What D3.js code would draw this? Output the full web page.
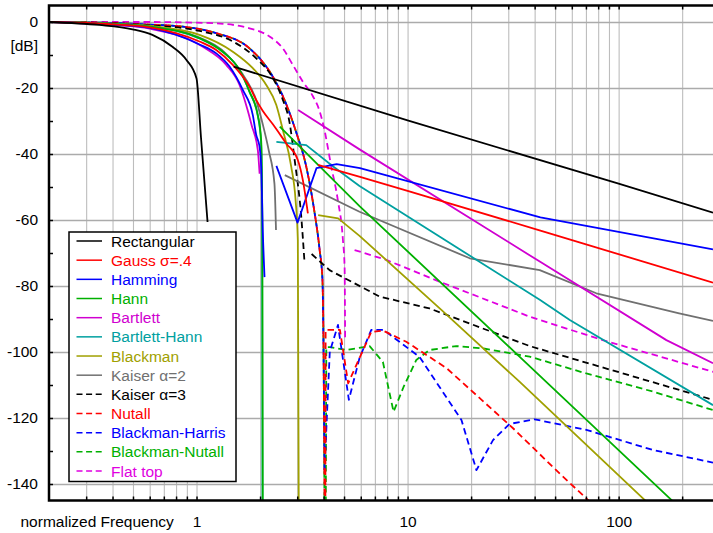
<!DOCTYPE html>
<html>
<head>
<meta charset="utf-8">
<script src="https://cdn.jsdelivr.net/npm/d3@7"></script>
<style>
  body { margin: 0; background: #fff; }
  text { font-family: "Liberation Sans", Arial, sans-serif; }
</style>
</head>
<body>
<svg id="chart" width="713" height="533"></svg>
<script>
// [normalized frequency, dB]
const rectMain = [[0.2,0],[0.346,-0.9],[0.497,-2.2],[0.618,-3.9],[0.769,-7.5],[0.896,-11.5],[1.0,-17.1],[1.05,-35],[1.128,-60.6]];
const rectSide = [[1.5,-13.5],[10,-29.8],[100,-49],[280,-57.8]];

const gaussMain = [[0.2,0],[0.4,-0.7],[0.6,-1.6],[1.033,-5.9],[1.24,-8.5],[1.486,-13],[1.783,-19.6],[1.918,-23.6],[2.062,-27],[2.3,-31],[2.662,-36.8],[3.02,-41.8],[3.19,-47.9],[3.37,-58]];
const gaussSide = [[3.76,-43.3],[5.95,-46.9],[10,-51.2],[42.6,-63.2],[280,-79]];

const hammingMain = [[0.2,0],[0.4,-0.8],[0.6,-1.8],[1.033,-6.8],[1.24,-9.5],[1.434,-13.5],[1.657,-20.6],[1.848,-28.2],[1.918,-34.2],[1.989,-37.8],[2.025,-43.8],[2.062,-63.9],[2.10,-77.3]];
const hammingSide = [[2.39,-43.6],[3.01,-60.8],[3.70,-44.3],[4.61,-43.1],[5.95,-44.3],[42.6,-59.2],[280,-68.9]];

const hannMain = [[0.2,0],[0.4,-0.6],[0.6,-1.4],[1.033,-4.9],[1.332,-9],[1.599,-14.5],[1.783,-21.1],[1.952,-28.2],[2.025,-36],[2.05,-60],[2.065,-200]];
const hannSide = [[2.48,-31.7],[5.92,-55.8],[33.9,-101.4],[177.7,-144.8],[280,-157]];

const bartlettMain = [[0.2,0],[0.4,-0.9],[0.6,-2],[1.071,-7.5],[1.383,-13],[1.599,-19.1],[1.746,-26.7],[1.823,-31.2],[1.952,-38.8],[1.99,-46]];
const bartlettSide = [[3.03,-26.7],[5.92,-38.6],[42.3,-72.6],[168.4,-96.4],[280,-103.4]];

const bartlettHannMain = [[0.2,0],[0.4,-0.6],[0.6,-1.4],[1.033,-5],[1.332,-9.1],[1.599,-14.6],[1.783,-21.2],[1.95,-28.4],[2.02,-36],[2.045,-60],[2.06,-200]];
const bartlettHannSide = [[2.39,-36.3],[3.31,-37.3],[4.44,-43.8],[5.92,-49.7],[42.3,-84.2],[58.7,-90.3],[280,-116.1]];

const blackmanMain = [[0.2,0],[0.4,-0.5],[0.6,-1.2],[1.033,-3.9],[1.486,-9],[1.848,-14],[2.14,-19.1],[2.386,-25.1],[2.564,-32.7],[2.81,-43.8],[2.946,-53.9],[3.02,-66.1],[3.05,-145],[3.06,-200]];
const blackmanSide = [[3.77,-58.5],[4.69,-59.5],[5.92,-64.8],[14.5,-87.3],[33.9,-109],[132.7,-144.8],[280,-164]];

const kaiser2Main = [[0.2,0],[0.4,-0.6],[0.6,-1.3],[1.033,-4.7],[1.4,-10],[1.7,-17],[1.9,-23],[2.06,-31],[2.2,-39],[2.34,-49],[2.38,-63]];
const kaiser2Side = [[2.62,-46.4],[5.92,-57.5],[19.7,-71.6],[42.3,-75.2],[78.4,-82.2],[193.6,-88.3],[280,-90.6]];

const kaiser3Main = [[0.2,0],[0.4,-0.4],[0.6,-1],[1.033,-2.7],[1.486,-5.9],[1.918,-11],[2.3,-17],[2.56,-23.5],[2.76,-30.5],[2.92,-42],[3.135,-59],[3.25,-73]];
const kaiser3Side = [[3.51,-70.3],[4.27,-75.2],[7.37,-83.2],[12.7,-86.8],[37.9,-98.2],[280,-114.5]];

const nutallMain = [[0.2,0],[0.4,-0.3],[0.6,-0.8],[0.861,-1.4],[1.24,-3.4],[1.783,-8],[2.3,-16.6],[2.61,-23.6],[2.97,-33.5],[3.31,-43.8],[3.61,-57],[3.83,-69],[3.95,-78],[4.04,-145],[4.06,-220]];
const nutallSide = [[4.065,-220],[4.09,-93.3],[4.78,-93.3],[5.23,-109.5],[5.92,-101.8],[6.73,-93.9],[7.64,-93.5],[9.86,-96.9],[15.3,-104.9],[31.6,-123.1],[52.5,-136.8],[71.5,-144.8],[100,-155]];

const blackmanHarrisMain = [[0.2,0],[0.4,-0.3],[0.6,-0.8],[0.861,-1.4],[1.24,-3.4],[1.783,-8],[2.3,-16.6],[2.61,-23.6],[2.97,-33.5],[3.31,-43.8],[3.61,-57],[3.83,-69],[3.95,-78],[4.04,-135.8]];
const blackmanHarrisSide = [[4.04,-135.8],[4.28,-99.9],[4.68,-91.8],[5.27,-114.5],[5.92,-101.8],[6.73,-93.3],[7.7,-93.3],[11.4,-101.5],[18,-120.6],[21.2,-135.8],[25.4,-126.7],[30.4,-121.8],[40,-120.4],[70.3,-123.6],[145.4,-129.7],[280,-133.5]];

const blackmanNutallMain = [[0.2,0],[0.4,-0.3],[0.6,-0.8],[0.861,-1.4],[1.24,-3.4],[1.783,-8],[2.3,-16.6],[2.61,-23.6],[2.97,-33.5],[3.31,-43.8],[3.61,-57],[3.83,-69],[3.95,-78],[4.04,-145],[4.06,-220]];
const blackmanNutallSide = [[4.065,-220],[4.12,-98.5],[4.28,-98.5],[5.14,-99.4],[6.61,-98.2],[7.64,-103],[8.58,-118.1],[9.57,-110.6],[11,-102.4],[12.7,-99.4],[17,-98.2],[22.7,-98.9],[37.9,-101.4],[70.3,-106.5],[145.4,-112],[280,-117.6]];

const flatTopMain = [[0.2,0],[0.6,0],[1.0,-0.2],[1.24,-0.4],[1.6,-1.2],[1.783,-1.9],[2.218,-4.4],[2.564,-8],[2.861,-13],[3.19,-18.1],[3.56,-22.5],[3.83,-27],[4.0,-31.5],[4.35,-43.8],[4.67,-53.9],[4.94,-66.1],[5.03,-74.2],[5.06,-95.5]];
const flatTopSide = [[5.61,-69.1],[7.93,-72.1],[14.2,-78.7],[37.9,-89.3],[84,-96.4],[280,-106]];

const windowNames = ["Rectangular", "Gauss σ=.4", "Hamming", "Hann", "Bartlett", "Bartlett-Hann", "Blackman",
  "Kaiser α=2", "Kaiser α=3", "Nutall", "Blackman-Harris", "Blackman-Nutall", "Flat top"];
// first array of each entry is the main lobe, second the side lobes
const windowData = [
  [rectMain, rectSide], [gaussMain, gaussSide], [hammingMain, hammingSide], [hannMain, hannSide],
  [bartlettMain, bartlettSide], [bartlettHannMain, bartlettHannSide], [blackmanMain, blackmanSide],
  [kaiser2Main, kaiser2Side], [kaiser3Main, kaiser3Side], [nutallMain, nutallSide],
  [blackmanHarrisMain, blackmanHarrisSide], [blackmanNutallMain, blackmanNutallSide],
  [flatTopMain, flatTopSide]
];

const xGridValues = [0.3,0.4,0.5,0.6,0.7,0.8,0.9,1,2,3,4,5,6,7,8,9,10,20,30,40,50,60,70,80,90,100,200];
const xLabelValues = [1, 10, 100];
const yLabelValues = [0,-20,-40,-60,-80,-100,-120,-140];
const yTickValues = [0,-10,-20,-30,-40,-50,-60,-70,-80,-90,-100,-110,-120,-130,-140];

// styles
const colors = ["#000000","#ff0000","#0000ff","#00b000","#d000d0","#00a0a0","#a0a000",
  "#707070","#000000","#ff0000","#0000ff","#00b000","#e000e0"];
const dashed = [false,false,false,false,false,false,false,false,true,true,true,true,true];
const dashOffset = [0,0,0,0,0,0,0,0,0,0,3.5,7,0];

const svg = d3.select("#chart");
const plotL = 49, plotR = 713, plotT = 5.5, plotB = 500.5;

const x = d3.scaleLog().domain([0.2, 280]).range([plotL, plotR]);
const y = d3.scaleLinear().domain([5, -145]).range([plotT, plotB]);

// vertical grid
svg.append("g")
  .attr("transform", `translate(0,${plotB})`)
  .call(d3.axisBottom(x).tickValues(xGridValues).tickSize(-(plotB - plotT)).tickFormat(""))
  .call(g => g.select(".domain").remove())
  .call(g => g.selectAll(".tick line").attr("stroke", "#bdbdbd").attr("stroke-width", 1.1));

// horizontal grid
svg.append("g")
  .attr("transform", `translate(${plotL},0)`)
  .call(d3.axisLeft(y).tickValues(yLabelValues).tickSize(-(plotR - plotL)).tickFormat(""))
  .call(g => g.select(".domain").remove())
  .call(g => g.selectAll(".tick line").attr("stroke", "#ababab").attr("stroke-width", 1.4));

// curves
const smooth = d3.line().x(d => x(d[0])).y(d => y(d[1])).curve(d3.curveMonotoneX);
const straight = d3.line().x(d => x(d[0])).y(d => y(d[1]));
svg.append("clipPath").attr("id", "plot")
  .append("rect").attr("x", plotL).attr("y", plotT).attr("width", plotR - plotL).attr("height", plotB - plotT);
const curves = svg.append("g").attr("clip-path", "url(#plot)");
for (let i = windowNames.length - 1; i >= 0; i--) {
  windowData[i].forEach((seg, k) => {
    curves.append("path")
      .attr("d", (k === 0 ? smooth : straight)(seg))
      .attr("fill", "none")
      .attr("stroke", colors[i])
      .attr("stroke-width", 1.8)
      .attr("stroke-linejoin", "round")
      .attr("stroke-dasharray", dashed[i] ? "6.5,4" : null)
      .attr("stroke-dashoffset", dashOffset[i]);
  });
}

// tick marks
svg.append("g").attr("transform", `translate(0,${plotB})`)
  .call(d3.axisBottom(x).tickValues(xGridValues).tickSize(-4).tickFormat(""))
  .call(g => g.select(".domain").remove())
  .call(g => g.selectAll(".tick line").attr("stroke-width", 1.5));
svg.append("g").attr("transform", `translate(0,${plotT})`)
  .call(d3.axisTop(x).tickValues(xGridValues).tickSize(-4).tickFormat(""))
  .call(g => g.select(".domain").remove())
  .call(g => g.selectAll(".tick line").attr("stroke-width", 1.5));
svg.append("g").attr("transform", `translate(${plotL},0)`)
  .call(d3.axisLeft(y).tickValues(yTickValues).tickSize(-4).tickFormat(""))
  .call(g => g.select(".domain").remove())
  .call(g => g.selectAll(".tick line").attr("stroke-width", 1.5));

// labels
svg.append("g").attr("transform", `translate(0,${plotB})`)
  .call(d3.axisBottom(x).tickValues(xLabelValues).tickSize(0).tickPadding(15).tickFormat(d3.format("d")))
  .call(g => g.select(".domain").remove())
  .call(g => g.selectAll("text").attr("font-size", 15.5).attr("fill", "#000")
    .attr("font-family", "Liberation Sans, Arial, sans-serif"));
svg.append("g").attr("transform", `translate(${plotL},0)`)
  .call(d3.axisLeft(y).tickValues(yLabelValues).tickSize(0).tickPadding(11).tickFormat(d => d))
  .call(g => g.select(".domain").remove())
  .call(g => g.selectAll("text").attr("font-size", 15.5).attr("fill", "#000")
    .attr("font-family", "Liberation Sans, Arial, sans-serif"));

svg.append("text").attr("x", 38).attr("y", 50.5).attr("text-anchor", "end")
  .attr("font-size", 15.5).text("[dB]");
svg.append("text").attr("x", 20.5).attr("y", 526.5)
  .attr("font-size", 15.5).text("normalized Frequency");

// frame (no right side, it runs off the picture)
svg.append("path")
  .attr("d", `M${plotR},${plotT}H${plotL}V${plotB}H${plotR}`)
  .attr("fill", "none").attr("stroke", "#000").attr("stroke-width", 2.5);

// legend
const lg = svg.append("g");
lg.append("rect").attr("x", 69).attr("y", 232).attr("width", 167).attr("height", 249.5)
  .attr("fill", "#fff").attr("stroke", "#000").attr("stroke-width", 1.5);
windowNames.forEach((name, i) => {
  const cy = 241 + i * 19.17;
  lg.append("line").attr("x1", 76.5).attr("x2", 102).attr("y1", cy).attr("y2", cy)
    .attr("stroke", colors[i]).attr("stroke-width", 1.5)
    .attr("stroke-dasharray", dashed[i] ? "6,3.6" : null);
  lg.append("text").attr("x", 111).attr("y", cy + 5.5)
    .attr("font-size", 15.5).attr("fill", colors[i]).text(name);
});
</script>
</body>
</html>
